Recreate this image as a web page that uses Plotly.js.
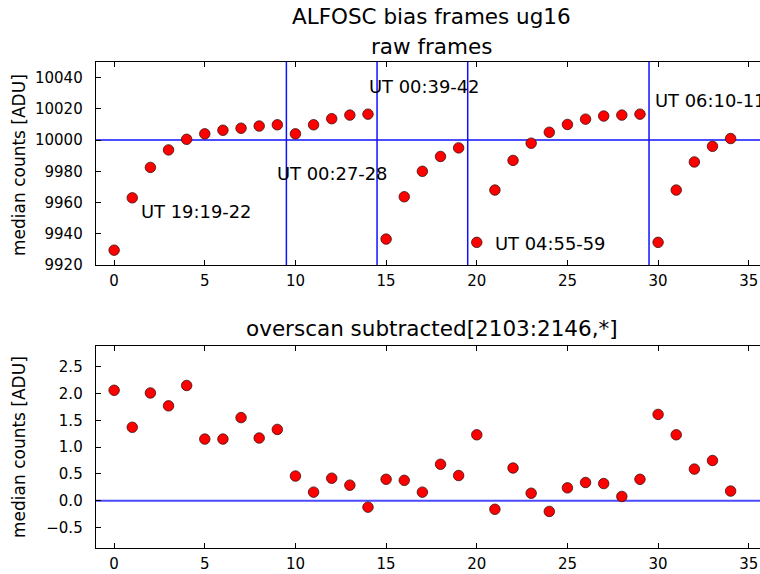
<!DOCTYPE html>
<html>
<head>
<meta charset="utf-8">
<script src="https://cdn.plot.ly/plotly-3.0.1.min.js"></script>
<style>html,body{margin:0;padding:0;background:#fff;}#chart{width:760px;height:574px;}</style>
</head>
<body>
<div id="chart"></div>
<script>
// frame index
const frameIdx = [0,1,2,3,4,5,6,7,8,9,10,11,12,13,14,15,16,17,18,19,20,21,22,23,24,25,26,27,28,29,30,31,32,33,34];
// raw frames median counts [ADU]
const rawMedian = [9929.5,9963,9982.5,9993.7,10000.5,10004,10006.3,10007.6,10009,10009.8,
  10004,10009.8,10013.7,10016,10016.6,9936.6,9963.7,9980,9989.5,9995,
  9934.5,9968,9987,9998,10005,10010,10013.4,10015.4,10016,10016.6,
  9934.5,9968,9986,9996,10001];
// overscan subtracted median counts [ADU]
const osubMedian = [2.06,1.37,2.01,1.77,2.15,1.15,1.15,1.55,1.17,1.33,
  0.46,0.16,0.42,0.29,-0.12,0.40,0.38,0.16,0.68,0.47,
  1.23,-0.16,0.61,0.14,-0.20,0.24,0.34,0.32,0.08,0.40,
  1.61,1.23,0.59,0.75,0.18];
// session boundaries and reference levels
const splitX = [9.5,14.5,19.5,29.5];
const rawRef = 10000;
const osubRef = 0;
// session labels
const labelText = ["UT 19:19-22","UT 00:27-28","UT 00:39-42","UT 04:55-59","UT 06:10-11"];
const labelX = [1.35,8.85,13.95,20.9,29.7];
const labelY = [9954,9978.7,10034.5,9934,10025.5];
// tick values
const rawTicks = [9920,9940,9960,9980,10000,10020,10040];
const osubTicks = [-0.5,0,0.5,1,1.5,2,2.5];
const xTicks = [0,5,10,15,20,25,30,35];

const FONT = "DejaVu Sans, Bitstream Vera Sans, sans-serif";
const marker = {size: 10.5, color: "#ff0000", line: {color: "#3a1010", width: 0.8}};

const traces = [
  {x: frameIdx, y: rawMedian, xaxis: "x", yaxis: "y", type: "scatter", mode: "markers", marker: marker, cliponaxis: false, hoverinfo: "x+y"},
  {x: frameIdx, y: osubMedian, xaxis: "x2", yaxis: "y2", type: "scatter", mode: "markers", marker: marker, cliponaxis: false, hoverinfo: "x+y"}
];

const shapes = [];
splitX.forEach(v => shapes.push({type: "line", xref: "x", yref: "y domain", x0: v, x1: v, y0: 0, y1: 1, line: {color: "#1010ff", width: 1.5}, layer: "below"}));
shapes.push({type: "line", xref: "x domain", yref: "y", x0: 0, x1: 1, y0: rawRef, y1: rawRef, line: {color: "#1010ff", width: 1.5}, layer: "below"});
shapes.push({type: "line", xref: "x2 domain", yref: "y2", x0: 0, x1: 1, y0: osubRef, y1: osubRef, line: {color: "#4a4aff", width: 2}, layer: "below"});

const annotations = labelText.map((t, i) => ({
  text: t, x: labelX[i], y: labelY[i], xref: "x", yref: "y",
  xanchor: "left", yanchor: "middle", showarrow: false,
  font: {family: FONT, size: 17.9, color: "#000"}
}));
annotations.push({text: "ALFOSC bias frames ug16", xref: "paper", yref: "paper", x: 431/760, y: 1 - 17/574, xanchor: "center", yanchor: "middle", showarrow: false, font: {family: FONT, size: 21.5, color: "#000"}});
annotations.push({text: "raw frames", xref: "paper", yref: "paper", x: 431/760, y: 1 - 46/574, xanchor: "center", yanchor: "middle", showarrow: false, font: {family: FONT, size: 21.5, color: "#000"}});
annotations.push({text: "overscan subtracted[2103:2146,*]", xref: "paper", yref: "paper", x: 432/760, y: 1 - 328/574, xanchor: "center", yanchor: "middle", showarrow: false, font: {family: FONT, size: 21.5, color: "#000"}});
annotations.push({text: "median counts [ADU]", xref: "paper", yref: "paper", x: 19/760, y: 1 - 165/574, xanchor: "center", yanchor: "middle", textangle: -90, showarrow: false, font: {family: FONT, size: 17, color: "#000"}});
annotations.push({text: "median counts [ADU]", xref: "paper", yref: "paper", x: 19/760, y: 1 - 447/574, xanchor: "center", yanchor: "middle", textangle: -90, showarrow: false, font: {family: FONT, size: 17, color: "#000"}});

const tickFont = {family: FONT, size: 15, color: "#000"};
function xax(anchor) {
  return {domain: [96/760, 1], anchor: anchor, range: [-1, 35.62], tickmode: "array", tickvals: xTicks,
    ticks: "inside", ticklen: 5, tickwidth: 1, tickcolor: "#000", showline: true, linecolor: "#000", linewidth: 1.3,
    mirror: "ticks", showgrid: false, zeroline: false, tickfont: tickFont, ticklabelstandoff: 2, fixedrange: true};
}
function yax(dom, anchor, range, ticks, fmt) {
  return {domain: dom, anchor: anchor, range: range, tickmode: "array", tickvals: ticks, tickformat: fmt,
    ticks: "inside", ticklen: 5, tickwidth: 1, tickcolor: "#000", showline: true, linecolor: "#000", linewidth: 1.3,
    mirror: false, showgrid: false, zeroline: false, tickfont: tickFont, ticklabelstandoff: 9, fixedrange: true};
}

const layout = {
  width: 760, height: 574,
  margin: {l: 0, r: 0, t: 0, b: 0, pad: 0},
  paper_bgcolor: "#fff", plot_bgcolor: "#fff",
  showlegend: false,
  font: {family: FONT, color: "#000"},
  xaxis: xax("y"),
  yaxis: yax([1 - 265/574, 1 - 62/574], "x", [9920, 10050], rawTicks, "d"),
  xaxis2: xax("y2"),
  yaxis2: yax([1 - 548/574, 1 - 346/574], "x2", [-0.882, 2.886], osubTicks, ".1f"),
  shapes: shapes,
  annotations: annotations
};

Plotly.newPlot("chart", traces, layout, {displayModeBar: false, staticPlot: true});
</script>
</body>
</html>
